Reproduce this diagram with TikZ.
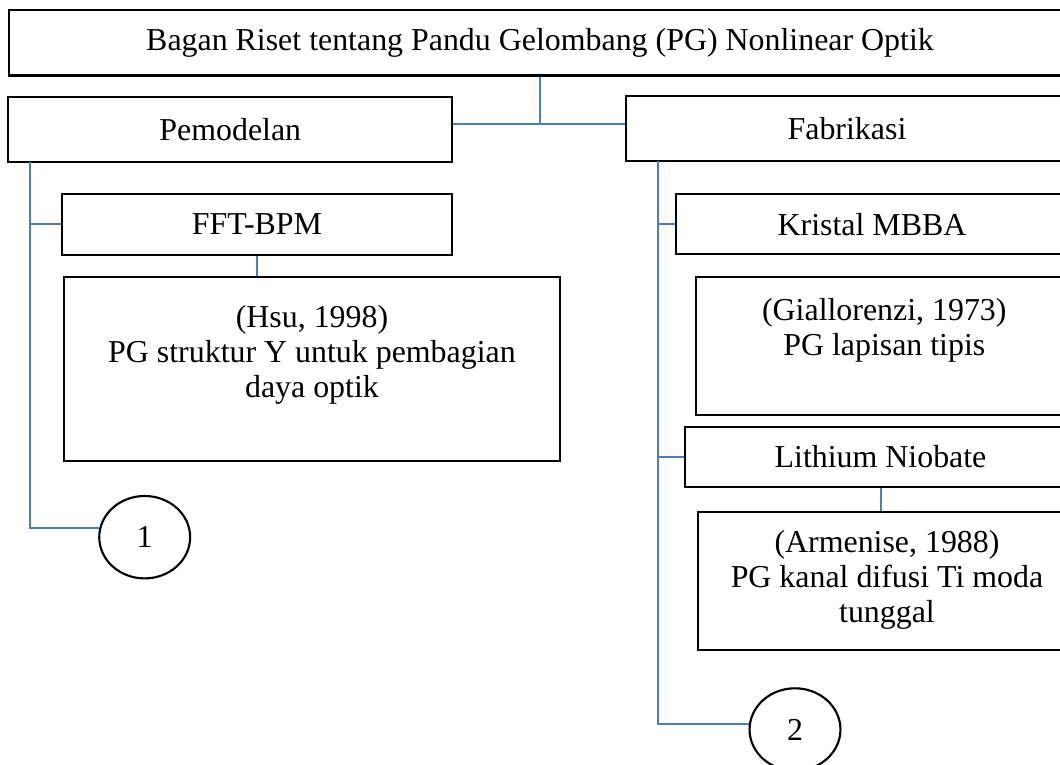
\documentclass[tikz,border=0pt]{standalone}
\usepackage{fontspec}
\setmainfont{Liberation Serif}
\usepackage{tikz}
\usetikzlibrary{positioning, shapes.geometric}
\definecolor{linkblue}{RGB}{74,126,187}

\begin{document}
\begin{tikzpicture}[x=0.3762pt,y=-0.3762pt,
        font=\fontsize{12pt}{13.17pt}\selectfont,
        box/.style={rectangle,draw=black,line width=0.8pt,inner sep=0pt,minimum height=24.5pt},
        refbox/.style={rectangle,draw=black,line width=0.8pt,inner sep=0pt,anchor=north},
        num/.style={ellipse,draw=black,line width=0.8pt,inner sep=0pt,minimum width=34.2pt,minimum height=31pt},
        link/.style={every edge/.style={draw=linkblue,line width=0.75pt}},
        vh/.style={to path={|- (\tikztotarget)}}]

        \clip (0,0) rectangle (1060,765);

        \node[box, minimum width=399.4pt] (judul) at (540,42.9) {Bagan Riset tentang Pandu Gelombang (PG) Nonlinear Optik};

        \node[box, minimum width=167pt] (pemodelan) at (230.3,129.2) {Pemodelan};
        \node[box, minimum width=166.3pt] (fabrikasi) at (847,128.5) {Fabrikasi};

        \node[box, minimum width=146.9pt, minimum height=22.8pt] (fft) at (257,224.3) {FFT-BPM};
        \node[refbox] (hsu) at (312,276) {\parbox[c][69.2pt][t]{186.8pt}{\centering\rule{0pt}{19.1pt}(Hsu, 1998)\\PG struktur Y untuk pembagian\\daya optik}};
        \node[num] (satu) at (144.7,537.2) {1};

        \node[box, minimum width=147.5pt, minimum height=22.6pt] (kristal) at (872,224.3) {Kristal MBBA};
        \node[refbox] (giallo) at (884.3,276) {\parbox[c][51.9pt][t]{141.7pt}{\centering\rule{0pt}{16.2pt}(Giallorenzi, 1973)\\PG lapisan tipis}};
        \node[box, minimum width=147.1pt, minimum height=22.6pt] (lithium) at (880.5,456.7) {Lithium Niobate};
        \node[refbox] (armenise) at (887,511) {\parbox[c][51.9pt][t]{142.1pt}{\centering\rule{0pt}{15.3pt}(Armenise, 1988)\\PG kanal difusi Ti moda\\tunggal}};
        \node[num] (dua) at (795,729.5) {2};

        \coordinate (cabang) at (540,124.5);
        \coordinate (kiri) at (30.3,161.7);
        \coordinate (kanan) at (658,161);

        \path[link]
                  (judul.south) edge (cabang)
                  (cabang) edge (cabang -| pemodelan.east)
                  (cabang) edge (cabang -| fabrikasi.west)

                  (kiri) edge [vh] (fft.west)
                  (kiri) edge [vh] (satu.168)
                  (fft.south) edge (fft.south |- hsu.north)

                  (kanan) edge [vh] (kristal.west)
                  (kanan) edge [vh] (lithium.west)
                  (kanan) edge [vh] (dua.173)
                  (lithium.south) edge (lithium.south |- armenise.north);
    \end{tikzpicture}
\end{document}
